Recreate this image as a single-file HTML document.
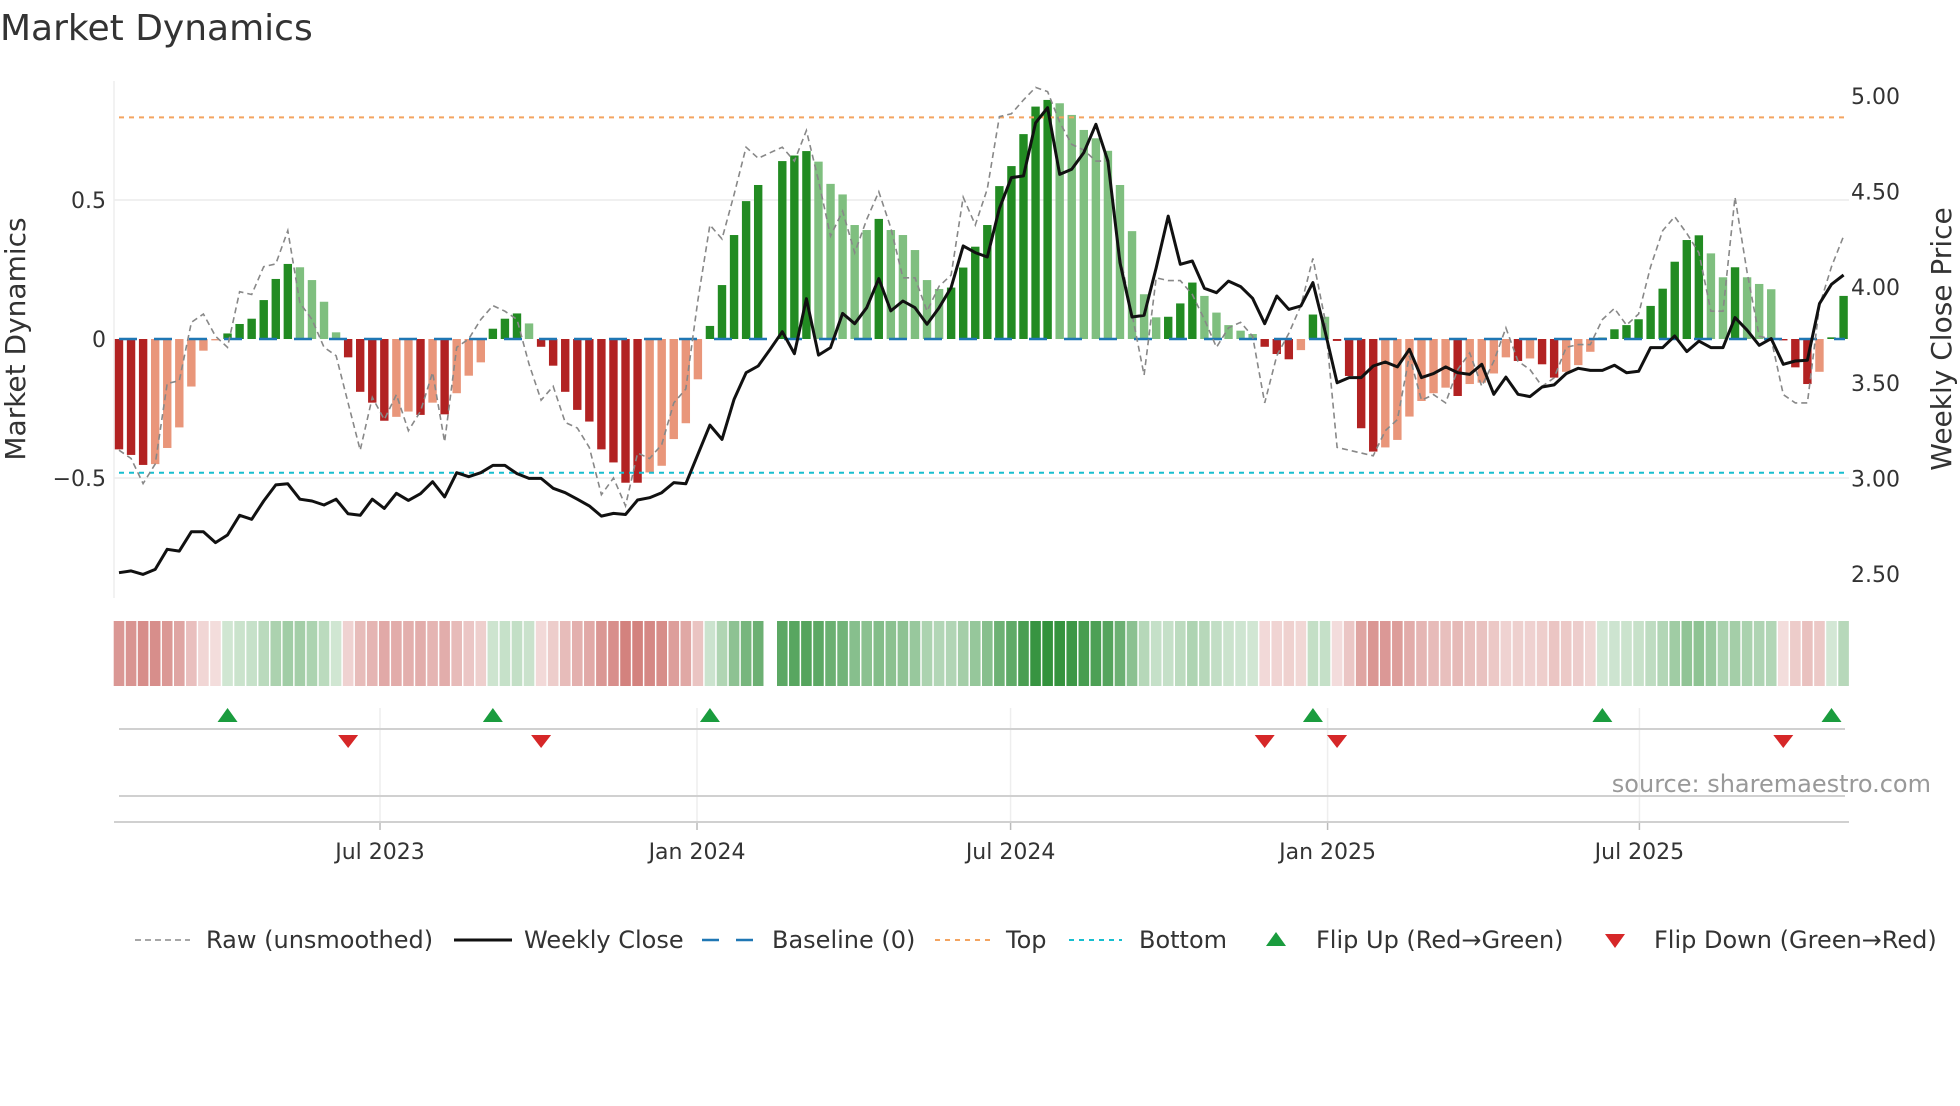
<!DOCTYPE html>
<html><head><meta charset="utf-8"><title>Market Dynamics</title>
<style>
html,body{margin:0;padding:0;background:#fff;}
body{width:1960px;height:1102px;overflow:hidden;font-family:"DejaVu Sans","Liberation Sans",sans-serif;}
svg text{font-family:"DejaVu Sans","Liberation Sans",sans-serif;}
</style></head>
<body>
<svg id="chart" width="1960" height="1102" viewBox="0 0 1960 1102" xmlns="http://www.w3.org/2000/svg">
<text x="0" y="40" font-size="36" fill="#333">Market Dynamics</text>
<g id="grid"></g><g id="bars"></g><g id="lines"></g><g id="axes"></g><g id="strip"></g><g id="markers"></g><g id="legend"></g>
</svg>
<script>
const dyn = [-0.397,-0.417,-0.453,-0.45,-0.392,-0.318,-0.171,-0.042,-0.005,0.02,0.054,0.073,0.14,0.216,0.27,0.258,0.212,0.134,0.024,-0.066,-0.19,-0.229,-0.294,-0.28,-0.261,-0.273,-0.229,-0.271,-0.195,-0.132,-0.084,0.037,0.073,0.092,0.056,-0.028,-0.096,-0.19,-0.255,-0.297,-0.397,-0.444,-0.517,-0.517,-0.48,-0.456,-0.36,-0.303,-0.145,0.047,0.194,0.374,0.496,0.554,null,0.64,0.66,0.676,0.638,0.558,0.52,0.41,0.392,0.432,0.392,0.374,0.32,0.212,0.18,0.185,0.257,0.332,0.41,0.55,0.622,0.737,0.836,0.86,0.848,0.806,0.752,0.722,0.677,0.554,0.388,0.161,0.078,0.08,0.128,0.203,0.155,0.095,0.05,0.03,0.018,-0.028,-0.054,-0.073,-0.04,0.088,0.08,-0.007,-0.133,-0.321,-0.405,-0.39,-0.363,-0.279,-0.223,-0.195,-0.175,-0.205,-0.162,-0.157,-0.124,-0.066,-0.079,-0.07,-0.091,-0.139,-0.118,-0.094,-0.046,0.005,0.035,0.05,0.071,0.119,0.181,0.278,0.356,0.373,0.308,0.222,0.258,0.222,0.198,0.179,-0.005,-0.102,-0.162,-0.118,0.006,0.155];
const raw = [-0.40,-0.43,-0.52,-0.45,-0.16,-0.15,0.06,0.09,0.01,-0.03,0.17,0.16,0.26,0.27,0.39,0.13,0.07,-0.03,-0.06,-0.23,-0.40,-0.21,-0.29,-0.20,-0.33,-0.26,-0.12,-0.37,-0.03,0.0,0.07,0.12,0.10,0.07,-0.09,-0.22,-0.17,-0.30,-0.32,-0.39,-0.56,-0.50,-0.60,-0.41,-0.43,-0.38,-0.23,-0.18,0.14,0.41,0.36,0.52,0.69,0.65,0.67,0.69,0.64,0.75,0.57,0.37,0.46,0.31,0.43,0.53,0.40,0.22,0.22,0.10,0.19,0.23,0.51,0.41,0.54,0.80,0.81,0.86,0.905,0.89,0.78,0.70,0.68,0.64,0.64,0.30,0.09,-0.13,0.22,0.21,0.21,0.16,0.07,-0.03,0.04,0.06,0.01,-0.23,-0.06,0.02,0.12,0.29,0.07,-0.39,-0.40,-0.41,-0.42,-0.33,-0.29,-0.06,-0.22,-0.20,-0.23,-0.11,-0.05,-0.17,-0.08,0.04,-0.08,-0.11,-0.17,-0.14,-0.03,-0.02,-0.02,0.07,0.11,0.05,0.09,0.26,0.39,0.44,0.38,0.31,0.10,0.10,0.51,0.24,0.01,0.0,-0.2,-0.23,-0.23,0.12,0.26,0.37];
const closes = [2.507,2.516,2.498,2.524,2.629,2.620,2.721,2.721,2.664,2.704,2.807,2.786,2.882,2.966,2.972,2.891,2.882,2.861,2.891,2.815,2.807,2.891,2.843,2.922,2.885,2.920,2.983,2.903,3.030,3.009,3.030,3.068,3.068,3.025,3.0,3.0,2.948,2.925,2.891,2.856,2.803,2.817,2.811,2.887,2.899,2.925,2.978,2.972,3.126,3.279,3.204,3.414,3.553,3.588,3.675,3.767,3.652,3.940,3.645,3.684,3.863,3.809,3.893,4.045,3.876,3.928,3.893,3.806,3.893,3.998,4.216,4.181,4.158,4.412,4.573,4.582,4.860,4.939,4.590,4.617,4.704,4.852,4.660,4.128,3.844,3.853,4.102,4.372,4.120,4.137,3.994,3.971,4.032,4.003,3.942,3.809,3.954,3.884,3.902,4.024,3.771,3.500,3.527,3.527,3.588,3.609,3.583,3.675,3.527,3.548,3.583,3.553,3.544,3.597,3.440,3.530,3.440,3.428,3.478,3.489,3.548,3.576,3.565,3.565,3.592,3.553,3.560,3.684,3.684,3.745,3.663,3.718,3.684,3.684,3.841,3.775,3.696,3.731,3.597,3.614,3.618,3.914,4.015,4.064];
const leftTicks = [0.5, 0, -0.5];
const leftTickLabels = ["0.5", "0", "\u22120.5"];
const rightTicks = [5.0, 4.5, 4.0, 3.5, 3.0, 2.5];
const rightTickLabels = ["5.00", "4.50", "4.00", "3.50", "3.00", "2.50"];
const xTickDates = ["2023-07-01", "2024-01-01", "2024-07-01", "2025-01-01", "2025-07-01"];
const xTickLabels = ["Jul 2023", "Jan 2024", "Jul 2024", "Jan 2025", "Jul 2025"];
const topLevel = 0.797;
const bottomLevel = -0.481;

const NS = "http://www.w3.org/2000/svg";
const startMs = Date.UTC(2023, 0, 30, 12);
const X0 = 119, STEP = 12.06;
function xIdx(i){ return X0 + i * STEP; }
function xDate(s){ const d = new Date(s + "T00:00:00Z").getTime(); return X0 + (d - startMs) / (7*86400000) * STEP; }
function yL(v){ return 339 - v * 278; }
function yR(p){ return 96 + (5 - p) * 191.2; }
function mk(tag, attrs, parent){ const e = document.createElementNS(NS, tag); for (const k in attrs) e.setAttribute(k, attrs[k]); parent.appendChild(e); return e; }
const G = id => document.getElementById(id);

// grid
const gridG = G('grid');
leftTicks.forEach((t, k) => {
  if (t !== 0) { const l = mk('line', {x1:114, x2:1849, y1:yL(t), y2:yL(t), stroke:'#ebebeb', 'stroke-width':1.5}, gridG);
  
   }
});
const spineLine = mk('line', {x1:114, x2:114, y1:81, y2:598, stroke:'#eeeeee', 'stroke-width':1.5}, gridG);



// bars
const barsG = G('bars');
let prevV = null;
dyn.forEach((v, i) => {
  if (v === null) return;
  const pos = v >= 0;
  const strong = prevV === null || (prevV >= 0) !== pos || Math.abs(v) >= Math.abs(prevV);
  const col = pos ? (strong ? '#228b22' : '#7fbf7f') : (strong ? '#b22222' : '#e9967a');
  const y0 = yL(0), y1 = yL(v);
  const r = mk('rect', {x: xIdx(i) - 4.2, width: 8.4, y: Math.min(y0, y1), height: Math.max(0.6, Math.abs(y1 - y0)), fill: col}, barsG);
  
  
  prevV = v;
});

// reference lines
const linesG = G('lines');
const baseLine = mk('line', {x1:119, x2:1845, y1:yL(0), y2:yL(0), stroke:'#1f77b4', 'stroke-width':2.5, 'stroke-dasharray':'18 17'}, linesG);


const topLine = mk('line', {x1:119, x2:1845, y1:yL(topLevel), y2:yL(topLevel), stroke:'#f4a460', 'stroke-width':2, 'stroke-dasharray':'5 5'}, linesG);


const botLine = mk('line', {x1:119, x2:1845, y1:yL(bottomLevel), y2:yL(bottomLevel), stroke:'#17becf', 'stroke-width':2, 'stroke-dasharray':'5 5'}, linesG);



const rawPath = mk('path', {d: raw.map((v, i) => (i ? 'L' : 'M') + xIdx(i).toFixed(1) + ' ' + yL(v).toFixed(1)).join(''), fill:'none', stroke:'#888', 'stroke-width':1.6, 'stroke-dasharray':'6 4'}, linesG);


const closePath = mk('path', {d: closes.map((v, i) => (i ? 'L' : 'M') + xIdx(i).toFixed(1) + ' ' + yR(v).toFixed(1)).join(''), fill:'none', stroke:'#111', 'stroke-width':3, 'stroke-linejoin':'round'}, linesG);



// axes
const axesG = G('axes');
leftTicks.forEach((t, k) => {
  const tx = mk('text', {x:106, y:yL(t) + 8, 'text-anchor':'end', 'font-size':22, fill:'#333'}, axesG);
  tx.textContent = leftTickLabels[k];
  
  
});
rightTicks.forEach((t, k) => {
  const tx = mk('text', {x:1851, y:yR(t) + 8, 'font-size':22, fill:'#333'}, axesG);
  tx.textContent = rightTickLabels[k];
  
  
});
const leftTitle = mk('text', {x:0, y:0, transform:'translate(25 339) rotate(-90)', 'text-anchor':'middle', 'font-size':28, fill:'#333'}, axesG);
leftTitle.textContent = 'Market Dynamics';


const rightTitle = mk('text', {x:0, y:0, transform:'translate(1951 339) rotate(-90)', 'text-anchor':'middle', 'font-size':28, fill:'#333'}, axesG);
rightTitle.textContent = 'Weekly Close Price';



// strip
const stripG = G('strip');
function mix(c, t){ return 'rgb(' + c.map(x => Math.round(255 + (x - 255) * t)).join(',') + ')'; }
dyn.forEach((v, i) => {
  if (v === null) return;
  const a = Math.abs(v);
  const fill = v >= 0 ? mix([40,140,50], 0.2 + 0.75 * Math.min(1, a / 0.86)) : mix([190,70,65], 0.18 + 0.5 * Math.min(1, a / 0.52));
  const r = mk('rect', {x: xIdx(i) - 5.3, width: 10.6, y: 621, height: 65, fill: fill}, stripG);
  
  
});

// markers panel
const mkG = G('markers');
xTickDates.forEach((d, k) => {
  const x = xDate(d);
  const gl = mk('line', {x1:x, x2:x, y1:708, y2:822, stroke:'#eeeeee', 'stroke-width':1.5}, mkG);
  
  
  const tk = mk('line', {x1:x, x2:x, y1:822, y2:830, stroke:'#bbb', 'stroke-width':1.5}, mkG);
  
  
  const tx = mk('text', {x:x, y:859, 'text-anchor':'middle', 'font-size':22, fill:'#333'}, mkG);
  tx.textContent = xTickLabels[k];
  
  
});
[[729,119,1845],[796,119,1845],[822,114,1849]].forEach(([y,a,b], k) => {
  const l = mk('line', {x1:a, x2:b, y1:y, y2:y, stroke:'#d0d0d0', 'stroke-width':2}, mkG);
  
  
});
let lastV = null;
dyn.forEach((v, i) => {
  if (v === null) return;
  if (lastV !== null && (lastV >= 0) !== (v >= 0)) {
    const x = xIdx(i);
    if (v >= 0) {
      const p = mk('polygon', {points: `${x-10},722 ${x+10},722 ${x},708`, fill:'#1a9c3e'}, mkG);
      
      
    } else {
      const p = mk('polygon', {points: `${x-10},735 ${x+10},735 ${x},748`, fill:'#d62728'}, mkG);
      
      
    }
  }
  lastV = v;
});
const srcText = mk('text', {x:1931, y:792, 'text-anchor':'end', 'font-size':24, fill:'#999'}, mkG);
srcText.textContent = 'source: sharemaestro.com';



// legend
const lgG = G('legend');
const LY = 940;
function legText(x, s, nm){ const t = mk('text', {x:x, y:LY + 8, 'font-size':24, fill:'#333'}, lgG); t.textContent = s;
  
   }
let sw;
sw = mk('line', {x1:135, x2:190, y1:LY, y2:LY, stroke:'#888', 'stroke-width':1.6, 'stroke-dasharray':'6 4'}, lgG);


legText(206, 'Raw (unsmoothed)', 'legend-raw-label');
sw = mk('line', {x1:454, x2:512, y1:LY, y2:LY, stroke:'#111', 'stroke-width':3}, lgG);


legText(524, 'Weekly Close', 'legend-close-label');
sw = mk('line', {x1:702, x2:757, y1:LY, y2:LY, stroke:'#1f77b4', 'stroke-width':2.5, 'stroke-dasharray':'17 17'}, lgG);


legText(772, 'Baseline (0)', 'legend-baseline-label');
sw = mk('line', {x1:935, x2:990, y1:LY, y2:LY, stroke:'#f4a460', 'stroke-width':2, 'stroke-dasharray':'5 5'}, lgG);


legText(1006, 'Top', 'legend-top-label');
sw = mk('line', {x1:1069, x2:1122, y1:LY, y2:LY, stroke:'#17becf', 'stroke-width':2, 'stroke-dasharray':'5 5'}, lgG);


legText(1139, 'Bottom', 'legend-bottom-label');
sw = mk('polygon', {points:'1266,946 1286,946 1276,932', fill:'#1a9c3e'}, lgG);


legText(1316, 'Flip Up (Red\u2192Green)', 'legend-flip-up-label');
sw = mk('polygon', {points:'1605,934 1625,934 1615,948', fill:'#d62728'}, lgG);


legText(1654, 'Flip Down (Green\u2192Red)', 'legend-flip-down-label');
</script>
</body></html>
